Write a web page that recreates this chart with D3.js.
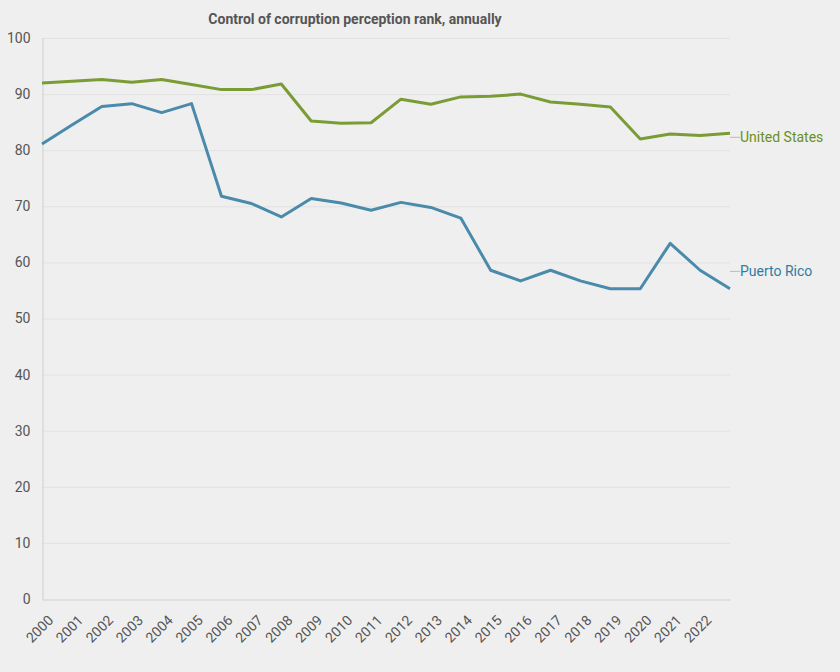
<!DOCTYPE html>
<html>
<head>
<meta charset="utf-8">
<script src="https://cdn.jsdelivr.net/npm/d3@7"></script>
<style>
  html, body { margin: 0; padding: 0; background: #efefef; }
  svg { display: block; font-family: Roboto, "Noto Sans", sans-serif; }
</style>
</head>
<body>
<svg id="chart" width="840" height="672"></svg>
<script>
const years = [2000,2001,2002,2003,2004,2005,2006,2007,2008,2009,2010,2011,2012,2013,2014,2015,2016,2017,2018,2019,2020,2021,2022,2023];
const unitedStates = [92.0,92.3,92.6,92.1,92.6,91.7,90.8,90.8,91.8,85.2,84.8,84.9,89.1,88.2,89.5,89.6,90.0,88.6,88.2,87.7,82.0,82.9,82.6,83.0];
const puertoRico = [81.1,84.5,87.8,88.3,86.7,88.3,71.8,70.5,68.1,71.4,70.6,69.3,70.7,69.8,67.9,58.6,56.7,58.6,56.7,55.3,55.3,63.4,58.6,55.3];
const yTicks = [0,10,20,30,40,50,60,70,80,90,100];
const xTickLabels = years.slice(0, 23);
const seriesNames = ["United States", "Puerto Rico"];
const labelAnchors = [82.3, 58.4];
const title = "Control of corruption perception rank, annually";

const svg = d3.select("#chart");
const margin = {left: 42, right: 110, top: 38, bottom: 73};
const W = 840, H = 672;
const x = d3.scaleLinear().domain([years[0], years[years.length-1]]).range([margin.left, W - margin.right]);
const y = d3.scaleLinear().domain([0, 100]).range([H - margin.bottom, margin.top]);

// grid
svg.append("g").selectAll("line").data(yTicks.slice(1)).join("line")
  .attr("x1", x.range()[0]).attr("x2", x.range()[1])
  .attr("y1", d => y(d) + 0.5).attr("y2", d => y(d) + 0.5)
  .attr("stroke", "#e2e2e2").attr("stroke-width", 1);

// y axis
const yAxis = svg.append("g").attr("transform", `translate(${margin.left + 0.5},0)`)
  .call(d3.axisLeft(y).tickValues(yTicks).tickSize(0).tickPadding(12));
yAxis.select(".domain").attr("stroke", "#cfcfcf");
yAxis.selectAll("text").attr("fill", "#555").attr("font-size", 14).attr("font-family", "Roboto, sans-serif");

// x axis
const xAxis = svg.append("g").attr("transform", `translate(0,${y(0) + 0.5})`)
  .call(d3.axisBottom(x).tickValues(xTickLabels).tickFormat(d3.format("d")).tickSize(0).tickPadding(6));
xAxis.select(".domain").attr("stroke", "#cfcfcf");
xAxis.selectAll("text")
  .attr("fill", "#555").attr("font-size", 14).attr("font-family", "Roboto, sans-serif")
  .attr("text-anchor", "end")
  .attr("dy", "0.35em")
  .attr("transform", "translate(4,14) rotate(-45)");

// lines
const colors = ["#7a9c35", "#4a8aab"];
const textColors = ["#6a8f1e", "#2f7ba3"];
const seriesData = [unitedStates, puertoRico];
const line = d3.line().x((d, i) => x(years[i])).y(d => y(d));
seriesData.forEach((s, k) => {
  svg.append("path").datum(s)
    .attr("fill", "none").attr("stroke", colors[k]).attr("stroke-width", 3)
    .attr("stroke-linejoin", "round")
    .attr("d", line);
  const ly = y(labelAnchors[k]);
  svg.append("line")
    .attr("x1", x.range()[1]).attr("x2", x.range()[1] + 10)
    .attr("y1", ly).attr("y2", ly)
    .attr("stroke", "#bbb").attr("stroke-width", 1);
  svg.append("text")
    .attr("x", x.range()[1] + 10).attr("y", ly).attr("dy", "0.35em")
    .attr("fill", textColors[k]).attr("font-size", 14)
    .text(seriesNames[k]);
});

// title
svg.append("text")
  .attr("x", 355).attr("y", 24)
  .attr("text-anchor", "middle")
  .attr("font-size", 14).attr("font-weight", "bold").attr("fill", "#555")
  .text(title);
</script>
</body>
</html>
